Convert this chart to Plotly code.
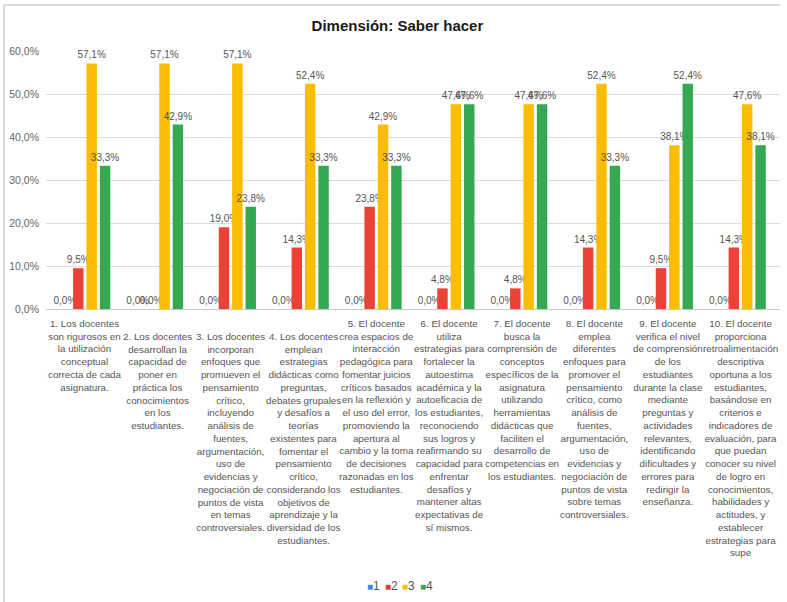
import plotly.graph_objects as go

# ---- data ----
categories = [
    "1. Los docentes<br>son rigurosos en<br>la utilización<br>conceptual<br>correcta de cada<br>asignatura.",
    "2. Los docentes<br>desarrollan la<br>capacidad de<br>poner en<br>práctica los<br>conocimientos<br>en los<br>estudiantes.",
    "3. Los docentes<br>incorporan<br>enfoques que<br>promueven el<br>pensamiento<br>crítico,<br>incluyendo<br>análisis de<br>fuentes,<br>argumentación,<br>uso de<br>evidencias y<br>negociación de<br>puntos de vista<br>en temas<br>controversiales.",
    "4. Los docentes<br>emplean<br>estrategias<br>didácticas como<br>preguntas,<br>debates grupales<br>y desafíos a<br>teorías<br>existentes para<br>fomentar el<br>pensamiento<br>crítico,<br>considerando los<br>objetivos de<br>aprendizaje y la<br>diversidad de los<br>estudiantes.",
    "5. El docente<br>crea espacios de<br>interacción<br>pedagógica para<br>fomentar juicios<br>críticos basados<br>en la reflexión y<br>el uso del error,<br>promoviendo la<br>apertura al<br>cambio y la toma<br>de decisiones<br>razonadas en los<br>estudiantes.",
    "6. El docente<br>utiliza<br>estrategias para<br>fortalecer la<br>autoestima<br>académica y la<br>autoeficacia de<br>los estudiantes,<br>reconociendo<br>sus logros y<br>reafirmando su<br>capacidad para<br>enfrentar<br>desafíos y<br>mantener altas<br>expectativas de<br>sí mismos.",
    "7. El docente<br>busca la<br>comprensión de<br>conceptos<br>específicos de la<br>asignatura<br>utilizando<br>herramientas<br>didácticas que<br>faciliten el<br>desarrollo de<br>competencias en<br>los estudiantes.",
    "8. El docente<br>emplea<br>diferentes<br>enfoques para<br>promover el<br>pensamiento<br>crítico, como<br>análisis de<br>fuentes,<br>argumentación,<br>uso de<br>evidencias y<br>negociación de<br>puntos de vista<br>sobre temas<br>controversiales.",
    "9. El docente<br>verifica el nivel<br>de comprensión<br>de los<br>estudiantes<br>durante la clase<br>mediante<br>preguntas y<br>actividades<br>relevantes,<br>identificando<br>dificultades y<br>errores para<br>redirigir la<br>enseñanza.",
    "10. El docente<br>proporciona<br>retroalimentación<br>descriptiva<br>oportuna a los<br>estudiantes,<br>basándose en<br>criterios e<br>indicadores de<br>evaluación, para<br>que puedan<br>conocer su nivel<br>de logro en<br>conocimientos,<br>habilidades y<br>actitudes, y<br>establecer<br>estrategias para<br>supe",
]
series_names = ["1", "2", "3", "4"]
s1 = [0.0, 0.0, 0.0, 0.0, 0.0, 0.0, 0.0, 0.0, 0.0, 0.0]
s2 = [0.095, 0.0, 0.190, 0.143, 0.238, 0.048, 0.048, 0.143, 0.095, 0.143]
s3 = [0.571, 0.571, 0.571, 0.524, 0.429, 0.476, 0.476, 0.524, 0.381, 0.476]
s4 = [0.333, 0.429, 0.238, 0.333, 0.333, 0.476, 0.476, 0.333, 0.524, 0.381]
series_values = [s1, s2, s3, s4]
colors = ["#4285F4", "#EA4335", "#FBBC04", "#34A853"]
y_ticks = [0, 0.1, 0.2, 0.3, 0.4, 0.5, 0.6]
title_text = "Dimensión: Saber hacer"

FONT = "Liberation Sans, Arial, sans-serif"
W, H = 787, 602
ML, MR, MT, MB = 46, 7, 51, 293
PW, PH = W - ML - MR, H - MT - MB

def px_x(x):
    return (x - ML) / PW

def px_y(y):
    return (H - MB - y) / PH

fig = go.Figure()
for name, vals, col in zip(series_names, series_values, colors):
    fig.add_trace(go.Bar(
        x=categories, y=vals, name=name, marker_color=col,
        marker_line_width=0,
        texttemplate="%{y:.1%}", textposition="outside",
        textfont=dict(family=FONT, size=10, color="#555555"),
        cliponaxis=False, constraintext="none", showlegend=False,
    ))

annotations = []
# category labels (top-aligned under each group; 2-4 start one line lower)
for i, cat in enumerate(categories):
    shift = -20 if i in (1, 2, 3) else -7
    annotations.append(dict(
        x=cat, xref="x", y=0, yref="y", yshift=shift, yanchor="top",
        xanchor="center", text=cat, showarrow=False, align="center",
        font=dict(family=FONT, size=9.8, color="#555555"),
    ))

# legend drawn as compact annotations
leg_x0 = 365
for k, (name, col) in enumerate(zip(series_names, colors)):
    annotations.append(dict(
        x=px_x(leg_x0 + k * 17.5), xref="paper", y=px_y(586), yref="paper",
        xanchor="left", yanchor="middle", showarrow=False,
        text=f"<span style='color:{col};font-size:10px'>■</span>{name}",
        font=dict(family=FONT, size=12, color="#555555"),
    ))

shapes = [
    dict(type="line", xref="paper", yref="paper",
         x0=px_x(4), x1=px_x(780), y0=px_y(5), y1=px_y(5),
         line=dict(color="#dadada", width=2)),
    dict(type="line", xref="paper", yref="paper",
         x0=px_x(4), x1=px_x(4), y0=px_y(5), y1=px_y(602),
         line=dict(color="#dadada", width=2)),
]

fig.update_layout(
    width=W, height=H,
    margin=dict(l=ML, r=MR, t=MT, b=MB, pad=0),
    paper_bgcolor="white", plot_bgcolor="white",
    separators=",.",
    barmode="group", bargap=0.265, bargroupgap=0.22,
    title=dict(text=f"<b>{title_text}</b>", x=0.505, xref="container",
               xanchor="center", y=1 - 26 / H, yanchor="middle",
               font=dict(family=FONT, size=15, color="#1a1a1a")),
    font=dict(family=FONT),
    xaxis=dict(showticklabels=False, showgrid=False, zeroline=False,
               showline=False, ticks=""),
    yaxis=dict(range=[0, 0.6], tickvals=y_ticks, tickformat=".1%",
               showgrid=True, gridcolor="#dcdcdc", gridwidth=1,
               zeroline=True, zerolinecolor="#c8c8c8", zerolinewidth=1,
               tickfont=dict(family=FONT, size=10.5, color="#666666"),
               ticks="", ticklabelstandoff=6),
    annotations=annotations,
    shapes=shapes,
)

fig.write_html("out.html", config={"displayModeBar": False},
               post_script="document.body.style.margin='0';")
